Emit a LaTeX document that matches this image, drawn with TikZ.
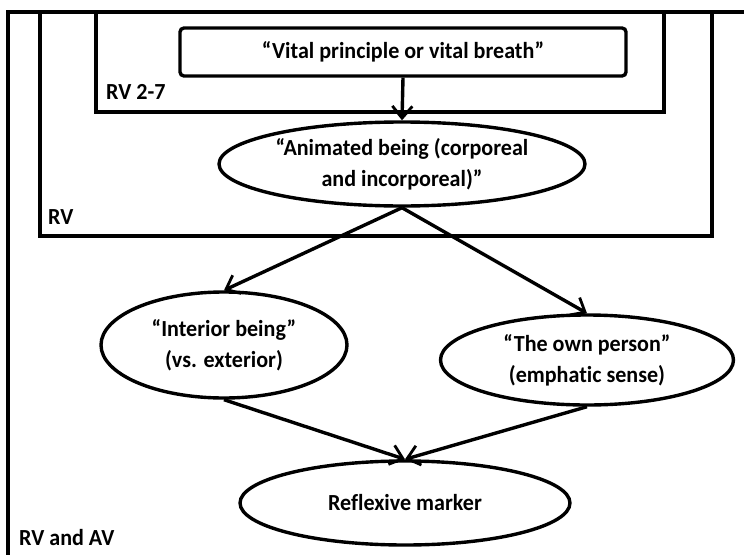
\documentclass[tikz,border=0pt]{standalone}
\usepackage{fontspec}
\setmainfont{Carlito}[FakeStretch=0.96,Ligatures=NoCommon]
\usetikzlibrary{shapes.geometric,arrows.meta}
\begin{document}
\begin{tikzpicture}[x=1pt,y=-1pt,
  frame/.style={line width=3.4pt},
  ell/.style={draw,ellipse,line width=3.4pt,inner sep=0pt,align=center,font=\bfseries\fontsize{23}{31}\selectfont},
  lbl/.style={anchor=south west,inner sep=0pt,font=\bfseries\fontsize{23}{26}\selectfont},
  arr/.style={line width=3.4pt,-{Straight Barb[length=12pt,width=20pt,line width=2.8pt]}}]
\useasboundingbox[fill=white] (0,0) rectangle (744,554);
\begin{scope}
\clip (0,0) rectangle (744,554);
\draw[frame] (8,560) -- (8,12) -- (750,12);
\draw[frame] (40,12) -- (40,236) -- (712,236) -- (712,12);
\draw[frame] (96,12) -- (96,112) -- (664,112) -- (664,12);
\end{scope}
\node[lbl] (lrv27) at (106,100) {RV 2-7};
\node[lbl] (lrv) at (48,225) {RV};
\node[lbl] (lrvav) at (19,546) {RV and AV};
\node[draw,line width=3.4pt,rounded corners=4pt,minimum width=446pt,minimum height=48pt,font=\bfseries\fontsize{23}{26}\selectfont] (vital) at (403,52) {“Vital principle or vital breath”};
\node[ell,minimum width=366pt,minimum height=84pt] (anim) at (402,164) {“Animated being (corporeal\\and incorporeal)”};
\node[ell,minimum width=246pt,minimum height=106pt] (inter) at (224,345) {“Interior being”\\(vs. exterior)};
\node[ell,minimum width=293pt,minimum height=90pt] (own) at (587,360) {“The own person”\\(emphatic sense)};
\node[ell,minimum width=330pt,minimum height=84pt] (refl) at (405,503) {Reflexive marker};
\draw[arr] (vital.south) -- (anim.north);
\draw[arr] (anim.south) -- (inter.north);
\draw[arr] (anim.south) -- (own.north);
\draw[arr] (inter.south) -- (refl.north);
\draw[arr] (own.south) -- (refl.north);
\end{tikzpicture}
\end{document}
